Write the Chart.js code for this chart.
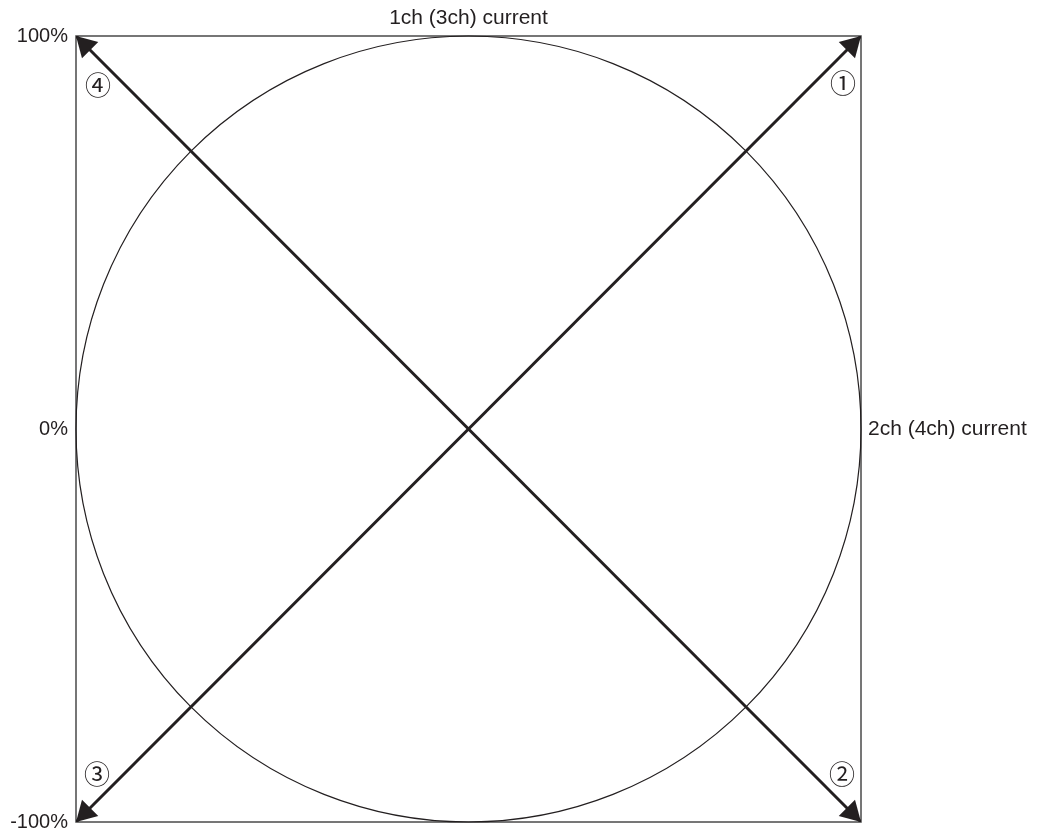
<!DOCTYPE html>
<html>
<head>
<meta charset="utf-8">
<script src="https://cdn.jsdelivr.net/npm/chart.js@4.4.1/dist/chart.umd.min.js"></script>
<style>
  html, body { margin: 0; padding: 0; background: #fff; }
  #wrap { width: 1038px; height: 837px; }
</style>
</head>
<body>
<div id="wrap"><canvas id="lissajous"></canvas></div>
<script>
// axis ranges and ticks (percent)
const yTicks = [-100, 0, 100];
const axisMin = -100;
const axisMax = 100;

// the two double-headed arrows
const arrowAX = [-100, 100];
const arrowAY = [-100, 100];
const arrowBX = [-100, 100];
const arrowBY = [100, -100];

// circle of full amplitude
const circleCenter = [0, 0];
const circleRadius = 100;

// corner markers: top-right, bottom-right, bottom-left, top-left
const markers = ["\u2460", "\u2461", "\u2462", "\u2463"];

const topTitle = "1ch (3ch) current";
const rightTitle = "2ch (4ch) current";

const ink = "#231f20";
const font = "'Liberation Sans', Arial, sans-serif";

const toPoints = (xs, ys) => xs.map((x, i) => ({ x: x, y: ys[i] }));

const decorations = {
  id: "decorations",
  beforeDatasetsDraw(chart) {
    const { ctx, chartArea: a, scales: { x, y } } = chart;
    ctx.save();
    // frame
    ctx.strokeStyle = "#4a4a4a";
    ctx.lineWidth = 1.5;
    ctx.strokeRect(a.left, a.top, a.right - a.left, a.bottom - a.top);
    // circle
    const cx = x.getPixelForValue(circleCenter[0]);
    const cy = y.getPixelForValue(circleCenter[1]);
    const rx = Math.abs(x.getPixelForValue(circleCenter[0] + circleRadius) - cx);
    const ry = Math.abs(y.getPixelForValue(circleCenter[1] + circleRadius) - cy);
    ctx.strokeStyle = ink;
    ctx.lineWidth = 1.2;
    ctx.beginPath();
    ctx.ellipse(cx, cy, rx, ry, 0, 0, Math.PI * 2);
    ctx.stroke();
    ctx.restore();
  },
  afterDatasetsDraw(chart) {
    const { ctx, chartArea: a, scales: { x, y } } = chart;
    ctx.save();
    ctx.fillStyle = ink;
    // arrow heads at both ends of each line
    chart.data.datasets.forEach((ds) => {
      const pts = ds.data.map((p) => [x.getPixelForValue(p.x), y.getPixelForValue(p.y)]);
      [[pts[1], pts[0]], [pts[0], pts[1]]].forEach(([from, tip]) => {
        const dx = tip[0] - from[0], dy = tip[1] - from[1];
        const len = Math.hypot(dx, dy);
        const ux = dx / len, uy = dy / len;
        const bx = tip[0] - ux * 20, by = tip[1] - uy * 20;
        ctx.beginPath();
        ctx.moveTo(tip[0], tip[1]);
        ctx.lineTo(bx - uy * 11.5, by + ux * 11.5);
        ctx.lineTo(bx + uy * 11.5, by - ux * 11.5);
        ctx.closePath();
        ctx.fill();
      });
    });
    // corner markers
    ctx.font = "26px 'Noto Sans CJK JP', 'DejaVu Sans', sans-serif";
    ctx.textAlign = "center";
    ctx.textBaseline = "middle";
    const spots = [
      [a.right - 18, a.top + 47],
      [a.right - 19, a.bottom - 48],
      [a.left + 21, a.bottom - 48],
      [a.left + 22, a.top + 49]
    ];
    markers.forEach((m, i) => ctx.fillText(m, spots[i][0], spots[i][1]));
    // right axis label
    ctx.font = "21px " + font;
    ctx.textAlign = "left";
    ctx.fillText(rightTitle, a.right + 7, y.getPixelForValue(0));
    ctx.restore();
  }
};

const lineStyle = {
  showLine: true,
  borderColor: ink,
  borderWidth: 3,
  pointRadius: 0,
  pointHoverRadius: 0,
  fill: false
};

const ctx = document.getElementById("lissajous").getContext("2d");
const chart = new Chart(ctx, {
  type: "scatter",
  data: {
    datasets: [
      { ...lineStyle, label: "1-3", data: toPoints(arrowAX, arrowAY) },
      { ...lineStyle, label: "2-4", data: toPoints(arrowBX, arrowBY) }
    ]
  },
  options: {
    responsive: true,
    maintainAspectRatio: false,
    animation: false,
    layout: { padding: { left: 0, right: 177, top: 0, bottom: 15 } },
    scales: {
      x: {
        type: "linear",
        position: "top",
        min: axisMin,
        max: axisMax,
        ticks: { display: false },
        grid: { display: false, drawTicks: false },
        border: { display: false },
        title: {
          display: true,
          text: topTitle,
          color: ink,
          font: { family: font, size: 21 },
          padding: { top: 6, bottom: 0 }
        },
        afterFit: (scale) => { scale.height = 36; }
      },
      y: {
        type: "linear",
        min: axisMin,
        max: axisMax,
        afterBuildTicks: (scale) => { scale.ticks = yTicks.map((v) => ({ value: v })); },
        ticks: {
          color: ink,
          font: { family: font, size: 20 },
          padding: 8,
          callback: (v) => v + "%"
        },
        grid: { display: false, drawTicks: false },
        border: { display: false },
        afterFit: (scale) => {
          scale.width = 76;
          scale.paddingTop = 0;
          scale.paddingBottom = 0;
        }
      }
    },
    plugins: {
      legend: { display: false },
      tooltip: { enabled: false }
    }
  },
  plugins: [decorations]
});
</script>
</body>
</html>
